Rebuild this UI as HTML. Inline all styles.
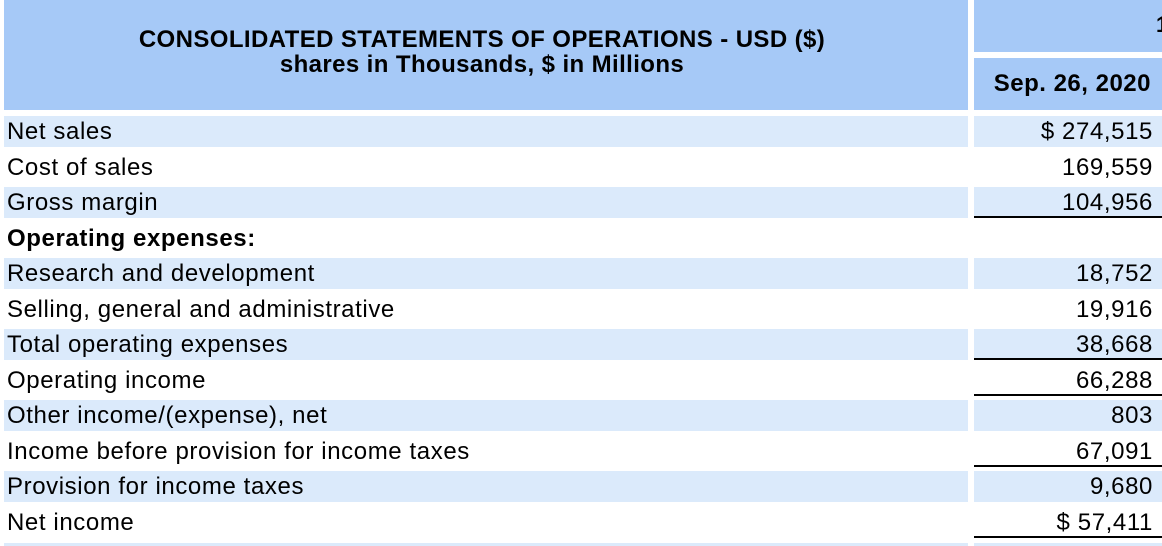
<!DOCTYPE html>
<html><head><meta charset="utf-8"><style>
body{margin:0;width:1162px;height:546px;overflow:hidden;background:#fff;font-family:"Liberation Sans",Arial,sans-serif;position:relative}
.a{position:absolute}
.hd{background:#a6c9f7}
.sh{background:#dbeafb}
.lbl{left:4px;width:964px;height:31px;font-size:24px;letter-spacing:0.6px;line-height:31px;padding-left:3px;box-sizing:border-box;color:#000;white-space:nowrap}
.val{left:974px;width:188px;height:31px;font-size:24px;letter-spacing:0.6px;line-height:31px;text-align:right;padding-right:9px;box-sizing:border-box;color:#000}
.ul{border-bottom:2px solid #000}
</style></head><body>
<div class="a hd" style="left:4px;top:0;width:964px;height:110px;text-align:center;font-weight:bold;font-size:24px;letter-spacing:0.4px;line-height:25px;padding-top:27px;box-sizing:border-box">
<div style="margin-left:-4px;width:964px">CONSOLIDATED STATEMENTS OF OPERATIONS - USD ($)<br>shares in Thousands, $ in Millions</div></div>
<div class="a hd" style="left:974px;top:0;width:188px;height:52px;overflow:hidden"><span style="position:absolute;left:182px;top:12px;font-weight:bold;font-size:22px">1</span></div>
<div class="a hd" style="left:974px;top:58px;width:188px;height:52px;font-weight:bold;font-size:24px;letter-spacing:0.5px;line-height:48px;text-align:right;padding-right:11px;box-sizing:border-box;padding-top:2px;white-space:nowrap">Sep. 26, 2020</div>
<div id="rows"></div>
<div class="a sh" style="left:4px;top:543px;width:964px;height:3px"></div>
<div class="a sh" style="left:974px;top:543px;width:188px;height:3px"></div>
<script>
const labels=["Net sales","Cost of sales","Gross margin","Operating expenses:","Research and development","Selling, general and administrative","Total operating expenses","Operating income","Other income/(expense), net","Income before provision for income taxes","Provision for income taxes","Net income"];
const values=["$ 274,515","169,559","104,956","","18,752","19,916","38,668","66,288","803","67,091","9,680","$ 57,411"];
const underline=[false,false,true,false,false,false,true,true,false,true,false,true];
const c=document.getElementById('rows');
labels.forEach((t,i)=>{
 const top=116+i*35.5;
 const l=document.createElement('div');
 
 
 l.className='a lbl'+(i%2==0?' sh':'');
 l.style.top=top+'px';
 if(i==3)l.style.fontWeight='bold';
 l.textContent=t;c.appendChild(l);
 const v=document.createElement('div');
 
 
 v.className='a val'+(i%2==0?' sh':'')+(underline[i]?' ul':'');
 v.style.top=top+'px';
 v.textContent=values[i];c.appendChild(v);
});
</script>
</body></html>
